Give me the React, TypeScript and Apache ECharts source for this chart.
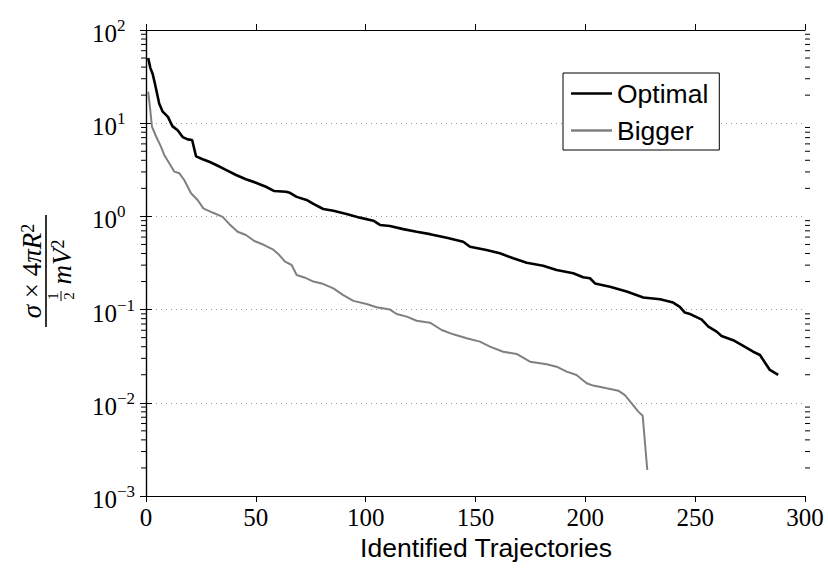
import React, { useEffect, useRef } from "react";
import * as echarts from "echarts";

// ---- Data ----
const optimalX = [1, 2, 3, 4, 6, 7.6, 10, 12, 14.4, 16.7, 19, 21, 22.8, 25.8, 28.8, 32, 36.4, 41, 45.5, 50, 54.6, 58.4, 63.7, 65.5, 68.6, 73.1, 76.2, 80.7, 85.3, 91.3, 97.4, 103.5, 106.5, 111, 117.1, 123.2, 129.3, 136.9, 144.4, 147.5, 155, 161.1, 167.2, 173.3, 180.8, 186.9, 194.5, 199, 202.1, 204.4, 211.2, 218.8, 226.4, 234, 240, 243, 245.3, 248, 253, 256, 259.8, 262, 267.3, 271.9, 276.4, 279.5, 284, 287.8];
const optimalY = [50, 39, 34, 27, 16.3, 13.3, 11.7, 9.3, 8.4, 7.1, 6.7, 6.6, 4.4, 4.1, 3.86, 3.56, 3.15, 2.78, 2.5, 2.3, 2.08, 1.87, 1.84, 1.79, 1.62, 1.5, 1.36, 1.2, 1.15, 1.06, 0.97, 0.9, 0.81, 0.79, 0.73, 0.685, 0.645, 0.59, 0.535, 0.473, 0.436, 0.402, 0.355, 0.318, 0.296, 0.266, 0.245, 0.222, 0.217, 0.191, 0.176, 0.156, 0.135, 0.129, 0.119, 0.107, 0.093, 0.089, 0.078, 0.0656, 0.058, 0.052, 0.047, 0.0407, 0.0353, 0.0326, 0.0225, 0.0199];

const biggerX = [1, 1.8, 2.7, 4.6, 6.8, 8.3, 10.6, 12.9, 15.2, 17.4, 20.5, 23.5, 26.1, 30.3, 34.9, 37.9, 41.7, 45.5, 49.3, 53.8, 57.7, 60.7, 63.3, 66.3, 68.6, 72.4, 76.2, 80, 85.3, 89.8, 94.4, 100.4, 105, 111.1, 114.1, 118.7, 123.2, 129.3, 134.6, 139.9, 146, 152, 156.6, 162.6, 168.7, 174.8, 182.4, 186.9, 191.5, 196, 200.6, 203.6, 209.7, 215, 218, 221.1, 224.1, 226.1, 228.2];
const biggerY = [21.8, 15, 9.2, 7.2, 5.6, 4.56, 3.71, 3.02, 2.9, 2.46, 1.77, 1.5, 1.22, 1.1, 0.99, 0.83, 0.685, 0.631, 0.544, 0.493, 0.443, 0.385, 0.327, 0.301, 0.235, 0.22, 0.2, 0.191, 0.169, 0.143, 0.124, 0.115, 0.106, 0.1, 0.0897, 0.084, 0.076, 0.0724, 0.0604, 0.0543, 0.0492, 0.0453, 0.04, 0.0353, 0.0334, 0.0276, 0.0259, 0.0244, 0.0216, 0.0199, 0.0162, 0.0153, 0.0143, 0.0135, 0.0121, 0.00988, 0.00804, 0.00728, 0.0019];

const seriesNames = ["Optimal", "Bigger"];
const xMin = 0;
const xMax = 300;
const xInterval = 50;
const yMin = 0.001;
const yMax = 100;
const minorDecades = [-3, -2, -1, 0, 1];
const minorMultipliers = [2, 3, 4, 5, 6, 7, 8, 9];
const xAxisTitle = "Identified Trajectories";

const SERIF = "'Liberation Serif', 'DejaVu Serif', serif";
const SANS = "'Liberation Sans', Arial, sans-serif";

export default function App() {
  const ref = useRef<HTMLDivElement>(null);

  useEffect(() => {
    if (!ref.current) return;
    const chart = echarts.init(ref.current, undefined, { renderer: "svg" });

    const minorData: number[][] = [];
    minorDecades.forEach((d) =>
      minorMultipliers.forEach((k) => minorData.push([0, k * Math.pow(10, d)]))
    );

    const logLabel = (v: number) => {
      const e = Math.round(Math.log10(v));
      const es = e < 0 ? "\u2212" + -e : String(e);
      return `{b|10}{s|${es}}`;
    };

    const mathRich = {
      i: { fontFamily: SERIF, fontStyle: "italic", fontSize: 27, color: "#000" },
      n: { fontFamily: SERIF, fontSize: 27, color: "#000" },
      s: { fontFamily: SERIF, fontSize: 18, color: "#000", verticalAlign: "top", lineHeight: 16 },
    };

    const option: any = {
      animation: false,
      backgroundColor: "#fff",
      grid: { left: 146, right: 23, top: 30, bottom: 81, containLabel: false },
      legend: {
        data: seriesNames,
        orient: "vertical",
        left: 563,
        top: 73,
        icon: "rect",
        itemWidth: 41,
        itemHeight: 2.5,
        itemGap: 10,
        padding: [7, 11, 6, 8],
        borderColor: "#000",
        borderWidth: 1,
        backgroundColor: "#fff",
        textStyle: { fontFamily: SANS, fontSize: 26.5, color: "#000", lineHeight: 26 },
        selectedMode: false,
      },
      xAxis: [
        {
          type: "value",
          min: xMin,
          max: xMax,
          interval: xInterval,
          position: "bottom",
          axisLine: { show: true, lineStyle: { color: "#000", width: 1.2 } },
          axisTick: { show: true, length: 6, lineStyle: { color: "#000" } },
          axisLabel: { show: true, fontFamily: SERIF, fontSize: 25, color: "#000", margin: 9 },
          splitLine: { show: false },
        },
        {
          type: "value",
          min: xMin,
          max: xMax,
          interval: xInterval,
          position: "top",
          axisLine: { show: true, lineStyle: { color: "#000", width: 1.2 } },
          axisTick: { show: true, length: 6, lineStyle: { color: "#000" } },
          axisLabel: { show: false },
          splitLine: { show: false },
        },
      ],
      yAxis: [
        {
          type: "log",
          logBase: 10,
          min: yMin,
          max: yMax,
          position: "left",
          axisLine: { show: true, lineStyle: { color: "#000", width: 1.2 } },
          axisTick: { show: true, length: 6, lineStyle: { color: "#000" } },
          axisLabel: {
            show: true,
            align: "left",
            margin: 54,
            formatter: logLabel,
            rich: {
              b: { fontFamily: SERIF, fontSize: 25, color: "#000", lineHeight: 26, padding: [7, 0, 0, 0] },
              s: { fontFamily: SERIF, fontSize: 17, color: "#000", lineHeight: 16, verticalAlign: "top" },
            },
          },
          splitLine: {
            show: true,
            lineStyle: { color: "#9a9a9a", type: [1, 4], width: 1 },
          },
        },
        {
          type: "log",
          logBase: 10,
          min: yMin,
          max: yMax,
          position: "right",
          axisLine: { show: true, lineStyle: { color: "#000", width: 1.2 } },
          axisTick: { show: true, length: 6, lineStyle: { color: "#000" } },
          axisLabel: { show: false },
          splitLine: { show: false },
        },
      ],
      series: [
        {
          name: seriesNames[0],
          type: "line",
          xAxisIndex: 0,
          yAxisIndex: 0,
          data: optimalX.map((x, i) => [x, optimalY[i]]),
          showSymbol: false,
          symbol: "none",
          color: "#000",
          lineStyle: { color: "#000", width: 2.6 },
          z: 3,
        },
        {
          name: seriesNames[1],
          type: "line",
          xAxisIndex: 0,
          yAxisIndex: 0,
          data: biggerX.map((x, i) => [x, biggerY[i]]),
          showSymbol: false,
          symbol: "none",
          color: "#808080",
          lineStyle: { color: "#808080", width: 2 },
          z: 2,
        },
        {
          name: "minorTicks",
          type: "custom",
          xAxisIndex: 0,
          yAxisIndex: 0,
          silent: true,
          clip: false,
          z: 10,
          data: minorData,
          renderItem: (params: any, api: any) => {
            const pl = api.coord([xMin, api.value(1)]);
            const pr = api.coord([xMax, api.value(1)]);
            return {
              type: "group",
              children: [
                { type: "line", shape: { x1: pl[0] - 5, y1: pl[1], x2: pl[0], y2: pl[1] }, style: { stroke: "#000", lineWidth: 1 } },
                { type: "line", shape: { x1: pr[0], y1: pr[1], x2: pr[0] + 5, y2: pr[1] }, style: { stroke: "#000", lineWidth: 1 } },
              ],
            };
          },
        },
      ],
      graphic: [
        {
          type: "text",
          x: 486,
          y: 548,
          style: {
            text: xAxisTitle,
            fontFamily: SANS,
            fontSize: 26.5,
            fill: "#000",
            align: "center",
            verticalAlign: "middle",
          },
        },
        {
          type: "group",
          x: 46,
          y: 271,
          rotation: Math.PI / 2,
          children: [
            { type: "line", shape: { x1: -56, y1: 0, x2: 56, y2: 0 }, style: { stroke: "#000", lineWidth: 1.6 } },
            {
              type: "text",
              x: 0,
              y: -14,
              style: {
                text: "{i|σ}{n| × 4}{i|πR}{s|2}",
                rich: mathRich,
                align: "center",
                verticalAlign: "middle",
              },
            },
            {
              type: "text",
              x: 9,
              y: 16,
              style: {
                text: "{i|mV}{s|2}",
                rich: mathRich,
                align: "center",
                verticalAlign: "middle",
              },
            },
            {
              type: "text",
              x: -25,
              y: 7,
              style: { text: "1", fontFamily: SERIF, fontSize: 15, fill: "#000", align: "center", verticalAlign: "middle" },
            },
            { type: "line", shape: { x1: -30, y1: 15, x2: -20, y2: 15 }, style: { stroke: "#000", lineWidth: 1 } },
            {
              type: "text",
              x: -25,
              y: 23,
              style: { text: "2", fontFamily: SERIF, fontSize: 15, fill: "#000", align: "center", verticalAlign: "middle" },
            },
          ],
        },
      ],
    };

    chart.setOption(option);
    return () => chart.dispose();
  }, []);

  return (
    <div
      ref={ref}
      style={{ position: "fixed", left: 0, top: 0, width: 828, height: 577, background: "#fff" }}
    />
  );
}
